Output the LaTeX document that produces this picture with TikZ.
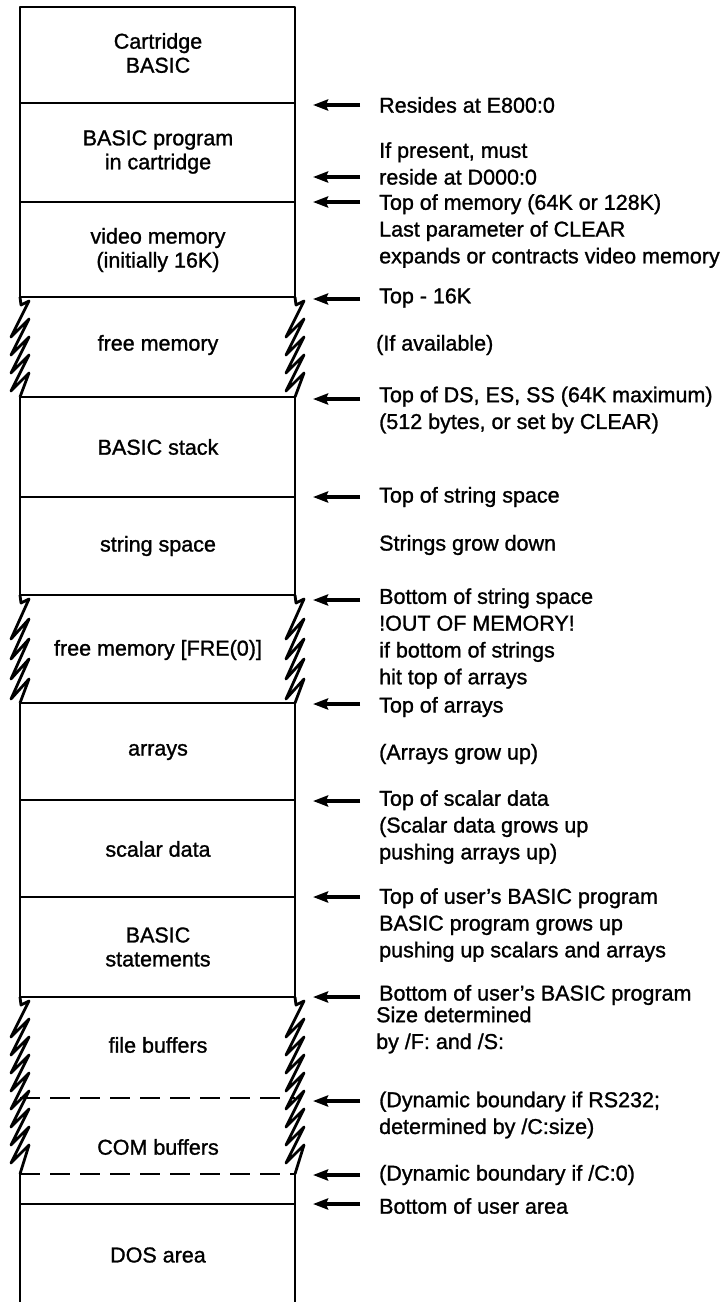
\documentclass[tikz,border=0pt]{standalone}
\usepackage{fontspec}
\setmainfont[FakeBold=1.2]{Liberation Sans}
\usetikzlibrary{arrows.meta}
\newcommand{\zigwall}[5]{% x, ytop, ybottom, teeth, advance
  \draw[wall] (#1,#2) -- ++(1,8) -- ++(8,-4)
    \foreach \k in {1,...,#4} { -- ++(-18,{2*#5}) -- ++(18,{-1*#5}) } -- (#1,#3);
}
\begin{document}
\begin{tikzpicture}[x=1pt,y=-1pt,
  wall/.style={line width=2.8pt, line join=round},
  sep/.style={line width=2.3pt},
  dsep/.style={line width=2.3pt, dash pattern=on 20pt off 10pt},
  arr/.style={line width=3.4pt, -{Stealth[length=15pt,width=11pt,inset=2pt]}},
  lbl/.style={align=center, font=\fontsize{21.5}{24}\selectfont, inner sep=0pt},
  note/.style={anchor=west, align=left, font=\fontsize{21.5}{26.8}\selectfont, inner sep=0pt}]
\useasboundingbox (0,0) rectangle (726,1302);
\def\L{20}\def\R{295}
% outer walls
\draw[wall] (\L,297) -- (\L,7) -- (\R,7) -- (\R,297);
\draw[wall] (\L,397) -- (\L,595);
\draw[wall] (\R,397) -- (\R,595);
\draw[wall] (\L,703) -- (\L,997);
\draw[wall] (\R,703) -- (\R,997);
\draw[wall] (\L,1174) -- (\L,1302);
\draw[wall] (\R,1174) -- (\R,1302);
% broken walls
\zigwall{\L}{297}{397}{4}{18}
\zigwall{\R}{297}{397}{4}{18}
\zigwall{\L}{595}{703}{4}{20}
\zigwall{\R}{595}{703}{4}{20}
\zigwall{\L}{997}{1174}{8}{18}
\zigwall{\R}{997}{1174}{8}{18}
% boundaries
\foreach \y in {103,202,297,397,497,595,703,800,897,997,1204}
  \draw[sep] (\L,\y) -- (\R,\y);
\draw[dsep] (\L,1098) -- (\R,1098);
\draw[dsep] (\L,1174) -- (\R,1174);
% region labels
\node[lbl] (cart) at (158,53) {Cartridge\\BASIC};
\node[lbl] (bpc) at (158,152) {BASIC program\\in cartridge};
\node[lbl] (vid) at (158,250) {video memory\\(initially 16K)};
\node[lbl] (free1) at (158,345) {free memory};
\node[lbl] (stack) at (158,447) {BASIC stack};
\node[lbl] (strs) at (158,546) {string space};
\node[lbl] (fre) at (158,650) {free memory [FRE(0)]};
\node[lbl] (arrs) at (158,752) {arrays};
\node[lbl] (scal) at (158,849) {scalar data};
\node[lbl] (stmt) at (158,947) {BASIC\\statements};
\node[lbl] (fileb) at (158,1045) {file buffers};
\node[lbl] (comb) at (158,1147) {COM buffers};
\node[lbl] (dos) at (158,1255) {DOS area};
% notes
\node[note] (n1) at (379,105) {Resides at E800:0};
\node[note] (n2) at (379,163.5) {If present, must\\reside at D000:0};
\node[note] (n3) at (379,231) {Top of memory (64K or 128K)\\Last parameter of CLEAR\\expands or contracts video memory};
\node[note] (n4) at (379,298) {Top - 16K};
\node[note] (n5) at (376,345) {(If available)};
\node[note] (n6) at (379,410) {Top of DS, ES, SS (64K maximum)\\(512 bytes, or set by CLEAR)};
\node[note] (n7) at (379,497) {Top of string space};
\node[note] (n8) at (379,545) {Strings grow down};
\node[note] (n9) at (379,638.5) {Bottom of string space\\!OUT OF MEMORY!\\if bottom of strings\\hit top of arrays};
\node[note] (n10) at (379,707) {Top of arrays};
\node[note] (n11) at (379,754) {(Arrays grow up)};
\node[note] (n12) at (379,827) {Top of scalar data\\(Scalar data grows up\\pushing arrays up)};
\node[note] (n13) at (379,925) {Top of user’s BASIC program\\BASIC program grows up\\pushing up scalars and arrays};
\node[note] (n14) at (379,995) {Bottom of user’s BASIC program};
\node[note] (n15) at (376,1030) {Size determined\\by /F: and /S:};
\node[note] (n16) at (379,1115) {(Dynamic boundary if RS232;\\determined by /C:size)};
\node[note] (n17) at (379,1175) {(Dynamic boundary if /C:0)};
\node[note] (n18) at (379,1206) {Bottom of user area};
% pointer arrows
\foreach \y [count=\i] in {105,177,202,299,399,497,600,704,801,897,997,1101,1175,1204} {
  \coordinate (tip\i) at (313,\y);
  \coordinate (tail\i) at (360,\y);
  \draw[arr] (tail\i) -- (tip\i);
}
\end{tikzpicture}
\end{document}
